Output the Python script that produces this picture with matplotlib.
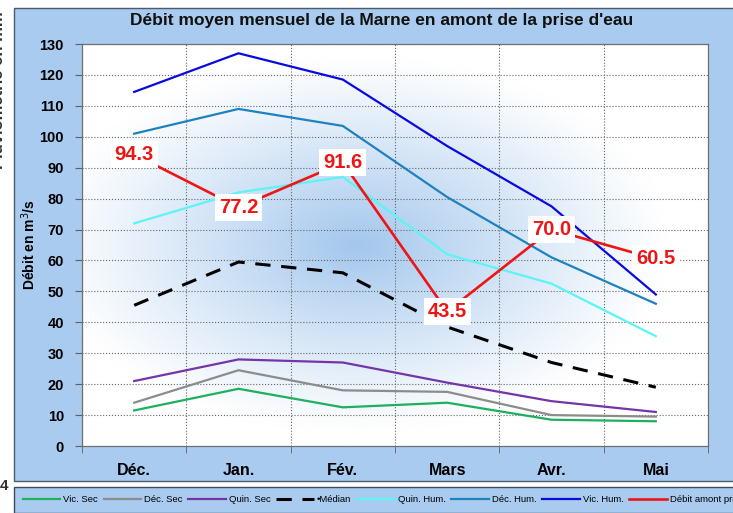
import numpy as np
import matplotlib.pyplot as plt
from matplotlib.patches import Rectangle

plt.rcParams['font.family'] = ['Liberation Sans', 'DejaVu Sans']

mois = ['Déc.', 'Jan.', 'Fév.', 'Mars', 'Avr.', 'Mai']
vic_sec = [11.5, 18.5, 12.5, 14.0, 8.5, 8.0]
dec_sec = [14.0, 24.5, 18.0, 17.5, 10.0, 9.5]
quin_sec = [21.0, 28.0, 27.0, 20.5, 14.5, 11.0]
median = [45.5, 59.5, 56.0, 38.5, 27.0, 19.0]
quin_hum = [72.0, 82.0, 87.0, 62.0, 52.5, 35.5]
dec_hum = [101.0, 109.0, 103.5, 80.5, 61.0, 46.0]
vic_hum = [114.5, 127.0, 118.5, 97.0, 77.5, 49.0]
debit = [94.3, 77.2, 91.6, 43.5, 70.0, 60.5]

fig = plt.figure(figsize=(7.33, 5.13), dpi=100)
fig.patch.set_facecolor('white')

# panneau bleu du graphique (derriere les axes)
panel = Rectangle((14/733, 1 - 481/513), 1, 473/513, transform=fig.transFigure,
                  facecolor='#A9CBEF', edgecolor='#4a5a70', lw=1.0, zorder=-10)
fig.patches.append(panel)

ax = fig.add_axes([82/733, 1 - 446/513, 626/733, 402/513])
ax.set_zorder(2)
x = np.arange(len(mois))

# fond en degrade radial
gx, gy = np.meshgrid(np.linspace(0, 1, 300), np.linspace(0, 1, 300))
d = np.sqrt(((gx - 0.44) / 0.5) ** 2 + ((gy - 0.5) / 0.47) ** 2)
t = np.clip(1 - d, 0, 1) ** 1.1
c0 = np.array([1.0, 1.0, 1.0])
c1 = np.array([0.64, 0.78, 0.93])
img = c0 + (c1 - c0) * t[..., None]
ax.imshow(img, extent=[-0.5, 5.5, 0, 130], aspect='auto', origin='lower', zorder=0)

lw = 1.6
ax.plot(x, vic_sec, color='#1DB05E', lw=lw, label='Vic. Sec', zorder=3)
ax.plot(x, dec_sec, color='#8C8C8C', lw=lw, label='Déc. Sec', zorder=3)
ax.plot(x, quin_sec, color='#7535A8', lw=lw, label='Quin. Sec', zorder=3)
ax.plot(x, median, color='black', lw=2.2, ls=(0, (5, 3.5)), label='•Médian', zorder=3)
ax.plot(x, quin_hum, color='#5CF4F4', lw=lw, label='Quin. Hum.', zorder=3)
ax.plot(x, dec_hum, color='#1E82BE', lw=lw, label='Déc. Hum.', zorder=3)
ax.plot(x, vic_hum, color='#0A0ADC', lw=lw, label='Vic. Hum.', zorder=3)
ax.plot(x, debit, color='#EE1515', lw=lw + 0.3, label="Débit amont prise d'eau", zorder=4)

for xi, v in zip(x, debit):
    ax.text(xi, v, f'{v:.1f}', color='#EE1515', fontsize=14.5, fontweight='bold',
            ha='center', va='center', zorder=5,
            bbox=dict(boxstyle='square,pad=0.2', facecolor='white', edgecolor='none'))

ax.set_xlim(-0.5, 5.5)
ax.set_ylim(0, 130)
ax.set_yticks(np.arange(0, 131, 10))
ax.set_xticks(x)
ax.set_xticklabels(mois, fontsize=11.5, fontweight='bold')
ax.set_xticks(np.arange(-0.5, 5.6, 1), minor=True)
ax.tick_params(axis='x', which='major', length=0, pad=12)
ax.tick_params(axis='x', which='minor', length=5, direction='out', color='#606060')
ax.tick_params(axis='y', length=5, direction='out', color='#606060', labelsize=10.5, pad=8)
for lab in ax.get_yticklabels():
    lab.set_fontweight('bold')
ax.grid(axis='y', which='major', color='#666666', ls=':', lw=0.8, zorder=1)
ax.grid(axis='x', which='minor', color='#666666', ls=':', lw=0.8, zorder=1)
for s in ax.spines.values():
    s.set_color('#707070')
    s.set_linewidth(0.9)

ax.set_ylabel('Débit en m$^{3}$/s', fontsize=10, fontweight='bold', labelpad=1)
fig.text(382/733, 1 - 20/513, "Débit moyen mensuel de la Marne en amont de la prise d'eau",
         fontsize=12.5, fontweight='bold', ha='center', va='center', color='#111111')

# textes coupes a gauche
fig.text(-0.012, 1 - 90/513, 'Pluviométrie en mm', rotation=90, fontsize=12,
         fontweight='bold', ha='left', va='center', color='#333333')
fig.text(0.0, 1 - 486/513, '4', fontsize=11, fontweight='bold', ha='left', va='center', color='#333333')

leg = fig.legend(loc='lower left', bbox_to_anchor=(14/733, 0.0), ncol=8, fontsize=6.8,
                 handlelength=4.0, handletextpad=0.3, columnspacing=0.6,
                 frameon=True, fancybox=False, borderaxespad=0.0, borderpad=0.9)
leg.get_frame().set_facecolor('#A9CBEF')
leg.get_frame().set_edgecolor('#404a5a')
leg.get_frame().set_alpha(1)

fig.savefig('out.png', dpi=100)
